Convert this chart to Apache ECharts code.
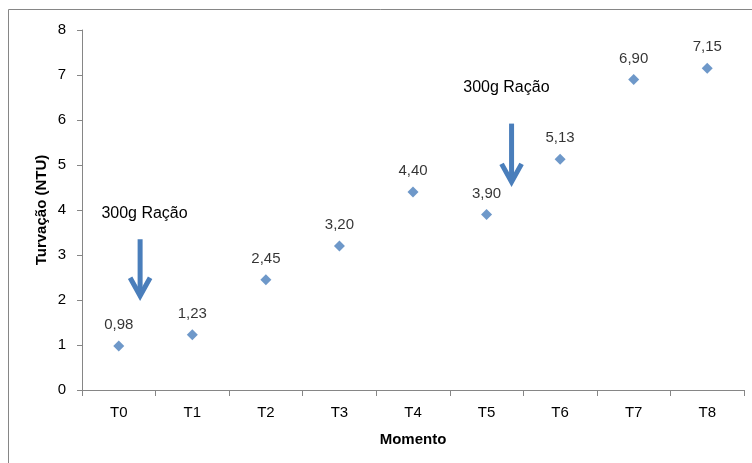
<!DOCTYPE html>
<html>
<head>
<meta charset="utf-8">
<script src="https://cdn.jsdelivr.net/npm/echarts@6/dist/echarts.min.js"></script>
<style>
  html, body { margin: 0; padding: 0; background: #fff; }
  #chart { width: 752px; height: 463px; }
</style>
</head>
<body>
<div id="chart"></div>
<script>
// Turbidity readings per sampling moment
const categories = ['T0', 'T1', 'T2', 'T3', 'T4', 'T5', 'T6', 'T7', 'T8'];
const turbidity = [0.98, 1.23, 2.45, 3.20, 4.40, 3.90, 5.13, 6.90, 7.15];
const yTicks = { min: 0, max: 8, interval: 1 };

// Feeding events: label and arrow placed in data space (category index, NTU)
const feedings = [
  { text: '300g Ração', textAt: [0.35, 3.93], from: [0.29, 3.35], to: [0.29, 2.05] },
  { text: '300g Ração', textAt: [5.27, 6.73], from: [5.34, 5.92], to: [5.34, 4.58] }
];

const FONT = '"Liberation Sans", Arial, sans-serif';
const chart = echarts.init(document.getElementById('chart'), null, { renderer: 'canvas' });

chart.setOption({
  animation: false,
  grid: { left: 82, right: 8, top: 30, bottom: 73 },
  xAxis: {
    type: 'category',
    data: categories,
    name: 'Momento',
    nameLocation: 'middle',
    nameGap: 42,
    nameMoveOverlap: false,
    nameTextStyle: { fontFamily: FONT, fontWeight: 'bold', fontSize: 15, color: '#000' },
    axisLine: { lineStyle: { color: '#868686', width: 1 } },
    axisTick: { show: true, length: 6, lineStyle: { color: '#868686' } },
    axisLabel: { fontFamily: FONT, fontSize: 15, color: '#000', margin: 15 },
    splitLine: { show: false }
  },
  yAxis: {
    type: 'value',
    min: yTicks.min,
    max: yTicks.max,
    interval: yTicks.interval,
    name: 'Turvação (NTU)',
    nameLocation: 'middle',
    nameGap: 33,
    nameMoveOverlap: false,
    nameRotate: 90,
    nameTextStyle: { fontFamily: FONT, fontWeight: 'bold', fontSize: 15, color: '#000' },
    axisLine: { show: true, lineStyle: { color: '#868686', width: 1 } },
    axisTick: { show: true, length: 5, lineStyle: { color: '#868686' } },
    axisLabel: { fontFamily: FONT, fontSize: 15, color: '#000', margin: 16 },
    splitLine: { show: false }
  },
  series: [{
    type: 'scatter',
    data: turbidity,
    symbol: 'diamond',
    symbolSize: 11,
    itemStyle: { color: '#4A7EBB' },
    label: {
      show: true,
      position: 'top',
      distance: 8,
      fontFamily: FONT,
      fontSize: 15,
      color: '#000',
      formatter: p => p.value.toFixed(2).replace('.', ',')
    }
  }]
});

// Map a fractional category index and value to pixels
function toPx(pt) {
  const a = chart.convertToPixel({ gridIndex: 0 }, [0, pt[1]]);
  const b = chart.convertToPixel({ gridIndex: 0 }, [1, pt[1]]);
  return [a[0] + (b[0] - a[0]) * pt[0], a[1]];
}

const graphics = [{
  type: 'rect',
  shape: { x: 8.5, y: 9.5, width: 800, height: 500 },
  style: { fill: 'none', stroke: '#868686', lineWidth: 1 },
  silent: true
}];

feedings.forEach(f => {
  const t = toPx(f.textAt);
  const p0 = toPx(f.from);
  const p1 = toPx(f.to);
  graphics.push({
    type: 'text',
    x: t[0], y: t[1],
    style: { text: f.text, fontFamily: FONT, fontSize: 16, fill: '#000', align: 'center', verticalAlign: 'middle' }
  });
  graphics.push({
    type: 'polyline',
    shape: { points: [p0, [p1[0], p1[1] - 3]] },
    style: { stroke: '#4A7EBB', lineWidth: 5, fill: 'none' }
  });
  graphics.push({
    type: 'polyline',
    shape: { points: [[p1[0] - 10, p1[1] - 20], [p1[0], p1[1] - 2], [p1[0] + 10, p1[1] - 20]] },
    style: { stroke: '#4A7EBB', lineWidth: 5, fill: 'none', lineJoin: 'miter' }
  });
});

chart.setOption({ graphic: graphics });
</script>
</body>
</html>
